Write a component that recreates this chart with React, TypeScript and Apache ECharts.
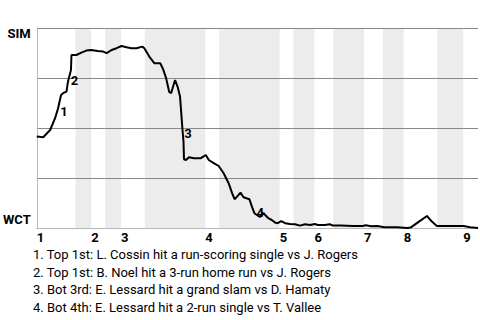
import React, { useEffect, useRef } from "react";
import * as echarts from "echarts";

// Innings and where each starts (plate-appearance index)
const innings = ["1", "2", "3", "4", "5", "6", "7", "8", "9"];
const inningStart = [0, 11, 17, 34, 49, 56, 66, 74, 86];
// Bottom halves of innings (shaded bands)
const bottomHalfStart = [7.8, 13.8, 21.8, 36.8, 51.8, 59.8, 69.8, 80.8];
const bottomHalfEnd = [11, 17, 34, 49, 56, 66, 74, 86];
const xMax = 89;

// Win probability for SIM (%), by plate-appearance index
const paIndex = [
  0, 1.3, 2.7, 3.7, 4.3, 4.9, 5.3, 6, 6.3, 6.9, 7, 8, 9, 10, 11, 12.3, 13.4, 14.1, 15.1, 16.1,
  17.1, 18.1, 19.1, 20.1, 21.3, 21.7, 22.7, 23.7, 24.9, 25.4, 26.1, 26.7, 27.1, 27.4, 27.9, 28.4,
  28.9, 29.2, 29.4, 29.6, 29.7, 30.1, 30.7, 31.7, 33.1, 34.1, 34.7, 35.7, 36.7, 37.7, 38.7, 39.4,
  39.9, 40.4, 41.1, 41.7, 42.9, 43.4, 43.9, 44.4, 45, 45.7, 46.7, 47.4, 48.1, 48.6, 49.3, 50.1,
  51.1, 52.1, 53.1, 54.1, 55.1, 56.1, 56.7, 58.1, 59.1, 59.7, 61.4, 63.7, 65.7, 66.4, 67.4, 68.7,
  70.1, 72.7, 74.7, 75.4, 77.1, 78.7, 79.7, 80.7, 83.4, 86.1, 87.4, 89,
];
const simWinPct = [
  45.7, 45.4, 49, 54.9, 59.9, 66.5, 67.4, 68.2, 73.2, 79, 86.5, 86.5, 87.7, 88.7, 89, 88.5, 88.2,
  87.4, 89, 89.9, 91, 90.4, 89.9, 89.9, 90.7, 89.9, 85.7, 82.4, 82.4, 79.9, 74.9, 68.2, 67.4, 69.9,
  74, 70.7, 65.7, 55.7, 49, 43.2, 34.4, 34, 35.4, 34.9, 34.9, 36.5, 34, 32.4, 31, 27.4, 22.4, 17.4,
  14.4, 15.7, 17.7, 15.4, 14.4, 10.7, 7.4, 6.5, 5.5, 7.5, 4.9, 4, 2.7, 2.4, 3.4, 2.4, 2, 1.9, 1.2,
  1.9, 1.5, 2, 1.5, 1.5, 1.9, 1.2, 1.2, 1, 1, 1.4, 0.9, 1, 0.4, 0.4, 0, 0.2, 3.2, 6, 3.2, 1, 1, 1,
  0.4, 0,
];

// Key events (number marker placed next to the jump)
const eventNum = ["1", "2", "3", "4"];
const eventX = [5.5, 7.6, 30.5, 45.1];
const eventY = [58.5, 74, 47.5, 8];

const notes = [
  "1. Top 1st: L. Cossin hit a run-scoring single vs J. Rogers",
  "2. Top 1st: B. Noel hit a 3-run home run vs J. Rogers",
  "3. Bot 3rd: E. Lessard hit a grand slam vs D. Hamaty",
  "4. Bot 4th: E. Lessard hit a 2-run single vs T. Vallee",
];

const FONT = "Roboto";

export default function App() {
  const ref = useRef<HTMLDivElement>(null);
  useEffect(() => {
    if (!ref.current) return;
    const chart = echarts.init(ref.current, null, { renderer: "svg" });
    const lineData = paIndex.map((x, i) => [x, simWinPct[i]]);
    const bands = bottomHalfStart.map((s, i) => [{ xAxis: s }, { xAxis: bottomHalfEnd[i] }]);
    chart.setOption({
      animation: false,
      textStyle: { fontFamily: FONT },
      grid: { left: 33, right: 2, top: 28, bottom: 92, containLabel: false },
      title: {
        left: 33,
        top: 246,
        padding: 0,
        text: notes.join("\n"),
        textStyle: {
          fontFamily: FONT,
          fontSize: 13,
          fontWeight: "normal",
          color: "#000",
          lineHeight: 17.5,
        },
      },
      xAxis: {
        type: "value",
        min: 0,
        max: xMax,
        axisLine: { show: true, lineStyle: { color: "#b8b8b8", width: 1 } },
        axisTick: { show: false },
        splitLine: { show: false },
        axisLabel: {
          customValues: inningStart,
          formatter: (v: number) => {
            const i = inningStart.indexOf(v);
            return i >= 0 ? innings[i] : "";
          },
          align: "left",
          margin: 3,
          fontFamily: FONT,
          fontSize: 13,
          fontWeight: "bold",
          color: "#000",
        },
      },
      yAxis: {
        type: "value",
        min: 0,
        max: 100,
        interval: 25,
        axisLine: { show: true, lineStyle: { color: "#b8b8b8", width: 1 } },
        axisTick: { show: false },
        splitLine: { show: true, lineStyle: { color: "#888", width: 1 } },
        axisLabel: {
          margin: 6,
          formatter: (v: number) => (v === 100 ? "{t|SIM}" : v === 0 ? "{b|WCT}" : ""),
          rich: {
            t: { padding: [10, 0, 0, 0], fontFamily: FONT, fontSize: 13, fontWeight: "bold", color: "#000" },
            b: { padding: [0, 0, 17, 0], fontFamily: FONT, fontSize: 13, fontWeight: "bold", color: "#000" },
          },
        },
      },
      series: [
        {
          type: "line",
          data: [],
          z: -1,
          silent: true,
          markArea: {
            silent: true,
            z: -1,
            itemStyle: { color: "#ececec", opacity: 1 },
            data: bands,
          },
        },
        {
          type: "line",
          data: lineData,
          showSymbol: false,
          symbol: "none",
          lineStyle: { color: "#000", width: 2 },
          z: 3,
        },
        {
          type: "scatter",
          data: eventX.map((x, i) => [x, eventY[i]]),
          symbolSize: 0,
          z: 4,
          itemStyle: { opacity: 1, color: "#000" },
          label: {
            show: true,
            position: "inside",
            formatter: (p: any) => eventNum[p.dataIndex],
            fontFamily: FONT,
            fontSize: 13,
            fontWeight: "bold",
            color: "#000",
            textBorderWidth: 0,
            opacity: 1,
          },
        },
      ],
    });
    return () => chart.dispose();
  }, []);
  return <div ref={ref} style={{ width: 480, height: 320, position: "absolute", left: 0, top: 0 }} />;
}
